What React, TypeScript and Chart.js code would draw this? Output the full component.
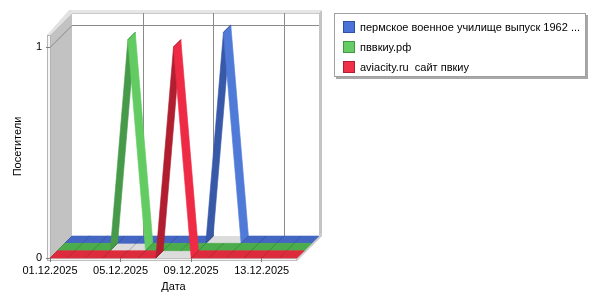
import React, { useEffect, useRef } from "react";
import { Chart, registerables } from "chart.js";

Chart.register(...registerables);

const categories = [
  "01.12.2025", "02.12.2025", "03.12.2025", "04.12.2025", "05.12.2025",
  "06.12.2025", "07.12.2025", "08.12.2025", "09.12.2025", "10.12.2025",
  "11.12.2025", "12.12.2025", "13.12.2025", "14.12.2025", "15.12.2025",
];
const seriesNames = [
  "пермское военное училище выпуск 1962 ...",
  "пввкиу.рф",
  "aviacity.ru  сайт пвкиу",
];
const blueValues = [0, 0, 0, 0, 0, 0, 0, 0, 0, 1, 0, 0, 0, 0, 0];
const greenValues = [0, 0, 0, 0, 1, 0, 0, 0, 0, 0, 0, 0, 0, 0, 0];
const redValues = [0, 0, 0, 0, 0, 0, 0, 1, 0, 0, 0, 0, 0, 0, 0];
const yTickValues = [0, 1];
const xLabelStep = 4;

const palette = [
  { flat: "#4367c2", rise: "#3858a8", fall: "#4f7ad8", edge: "rgba(20,40,100,0.45)", legend: "#4a72d8", border: "#30509c" },
  { flat: "#4aac4a", rise: "#479a4a", fall: "#62cc62", edge: "rgba(20,80,20,0.45)", legend: "#66cc66", border: "#3f9a3f" },
  { flat: "#dd2b3d", rise: "#b01e30", fall: "#ee2a44", edge: "rgba(110,10,20,0.45)", legend: "#ee3048", border: "#b01c30" },
];

const DEPTH = 22;
const T = 3;

const threeD = {
  id: "threeD",
  beforeDraw(chart: any) {
    const ctx = chart.ctx;
    const { left, right, top, bottom } = chart.chartArea;
    const D = DEPTH;
    ctx.save();
    ctx.fillStyle = "#ffffff";
    ctx.fillRect(0, 0, chart.width, chart.height);

    // back wall
    ctx.fillStyle = "#ffffff";
    ctx.fillRect(left + D, top - D, right - left, bottom - top);
    // back wall top face
    ctx.fillStyle = "#e6e6e6";
    ctx.beginPath();
    ctx.moveTo(left + D - T, top - D);
    ctx.lineTo(right + D, top - D);
    ctx.lineTo(right + D + T, top - D - T);
    ctx.lineTo(left + D, top - D - T);
    ctx.closePath();
    ctx.fill();
    ctx.strokeStyle = "#c8c8c8";
    ctx.lineWidth = 1;
    ctx.beginPath();
    ctx.moveTo(left + D, top - D + 0.5);
    ctx.lineTo(right + D, top - D + 0.5);
    ctx.stroke();
    // back wall right face
    ctx.fillStyle = "#c4c4c4";
    ctx.beginPath();
    ctx.moveTo(right + D, top - D);
    ctx.lineTo(right + D + T, top - D - T);
    ctx.lineTo(right + D + T, bottom - D - T);
    ctx.lineTo(right + D, bottom - D);
    ctx.closePath();
    ctx.fill();

    // floor top face
    ctx.fillStyle = "#dcdcdc";
    ctx.beginPath();
    ctx.moveTo(left, bottom);
    ctx.lineTo(right, bottom);
    ctx.lineTo(right + D, bottom - D);
    ctx.lineTo(left + D, bottom - D);
    ctx.closePath();
    ctx.fill();
    // floor front face
    ctx.fillStyle = "#f2f2f2";
    ctx.fillRect(left - T, bottom, right - left + T, T);
    ctx.strokeStyle = "#c0c0c0";
    ctx.strokeRect(left - T + 0.5, bottom + 0.5, right - left + T - 1, T - 1);
    // floor right face
    ctx.fillStyle = "#c8c8c8";
    ctx.beginPath();
    ctx.moveTo(right, bottom);
    ctx.lineTo(right + D + T, bottom - D - T);
    ctx.lineTo(right + D + T, bottom - D);
    ctx.lineTo(right, bottom + T);
    ctx.closePath();
    ctx.fill();

    // left wall inner face
    ctx.fillStyle = "#c2c2c2";
    ctx.beginPath();
    ctx.moveTo(left, top);
    ctx.lineTo(left + D, top - D);
    ctx.lineTo(left + D, bottom - D);
    ctx.lineTo(left, bottom);
    ctx.closePath();
    ctx.fill();
    // left wall top face
    ctx.fillStyle = "#e2e2e2";
    ctx.beginPath();
    ctx.moveTo(left - T, top);
    ctx.lineTo(left, top);
    ctx.lineTo(left + D, top - D);
    ctx.lineTo(left + D, top - D - T);
    ctx.lineTo(left + D - T, top - D - T);
    ctx.closePath();
    ctx.fill();
    // left wall front face
    ctx.fillStyle = "#f6f6f6";
    ctx.fillRect(left - T, top, T, bottom - top + T);
    ctx.strokeStyle = "#b4b4b4";
    ctx.strokeRect(left - T + 0.5, top + 0.5, T, bottom - top + T - 1);

    // gridlines
    const xs = chart.scales.x;
    const ys = chart.scales.y;
    ctx.strokeStyle = "#8a8a8a";
    ctx.lineWidth = 1;
    yTickValues.forEach((v) => {
      if (v === 0) return;
      const y = Math.round(ys.getPixelForValue(v)) + 0.5;
      ctx.beginPath();
      ctx.moveTo(left, y);
      ctx.lineTo(left + D, y - D);
      ctx.lineTo(right + D, y - D);
      ctx.stroke();
    });
    categories.forEach((_, i) => {
      if (i % xLabelStep !== 0 || i === 0) return;
      const x = Math.round(xs.getPixelForValue(i)) + 0.5;
      ctx.strokeStyle = "#8a8a8a";
      ctx.beginPath();
      ctx.moveTo(x + D, top - D);
      ctx.lineTo(x + D, bottom - D);
      ctx.stroke();
      ctx.strokeStyle = "#a8a8a8";
      ctx.beginPath();
      ctx.moveTo(x, bottom);
      ctx.lineTo(x + D, bottom - D);
      ctx.stroke();
    });
    ctx.restore();
  },
  afterDatasetsDraw(chart: any) {
    const ctx = chart.ctx;
    const n = chart.data.datasets.length;
    const d = DEPTH / n;
    ctx.save();
    for (let s = 0; s < n; s++) {
      const meta = chart.getDatasetMeta(s);
      const pts = meta.data;
      const z0 = (n - 1 - s) * d;
      const z1 = z0 + d;
      const col = palette[s];
      for (let k = 0; k < pts.length - 1; k++) {
        const a = pts[k];
        const b = pts[k + 1];
        let fill = col.flat;
        if (b.y < a.y - 0.5) fill = col.rise;
        else if (b.y > a.y + 0.5) fill = col.fall;
        ctx.fillStyle = fill;
        ctx.beginPath();
        ctx.moveTo(a.x + z0, a.y - z0);
        ctx.lineTo(b.x + z0, b.y - z0);
        ctx.lineTo(b.x + z1, b.y - z1);
        ctx.lineTo(a.x + z1, a.y - z1);
        ctx.closePath();
        ctx.fill();
        ctx.strokeStyle = fill;
        ctx.lineWidth = 0.6;
        ctx.stroke();
        ctx.strokeStyle = col.edge;
        ctx.lineWidth = 0.8;
        ctx.beginPath();
        ctx.moveTo(a.x + z0, a.y - z0);
        ctx.lineTo(a.x + z1, a.y - z1);
        ctx.stroke();
      }
    }
    ctx.restore();
  },
  afterDraw(chart: any) {
    const ctx = chart.ctx;
    ctx.save();
    const bx = 334, by = 13, bw = 252, bh = 64;
    ctx.fillStyle = "#a8a8a8";
    ctx.fillRect(bx + 2, by + 2, bw, bh);
    ctx.fillStyle = "#ffffff";
    ctx.fillRect(bx, by, bw, bh);
    ctx.strokeStyle = "#a0a0a0";
    ctx.lineWidth = 1;
    ctx.strokeRect(bx + 0.5, by + 0.5, bw - 1, bh - 1);
    ctx.font = "11px 'Liberation Sans'";
    ctx.textBaseline = "middle";
    ctx.textAlign = "left";
    chart.data.datasets.forEach((ds: any, i: number) => {
      const y = by + 8 + i * 20;
      ctx.fillStyle = palette[i].legend;
      ctx.fillRect(bx + 9, y, 12, 12);
      ctx.strokeStyle = palette[i].border;
      ctx.strokeRect(bx + 9.5, y + 0.5, 11, 11);
      ctx.fillStyle = "#000000";
      ctx.fillText(ds.label, bx + 26, y + 6.5);
    });
    ctx.restore();
  },
};

export default function App() {
  const ref = useRef<HTMLCanvasElement | null>(null);
  useEffect(() => {
    if (!ref.current) return;
    Chart.defaults.font.family = "'Liberation Sans', Arial, sans-serif";
    Chart.defaults.font.size = 11;
    Chart.defaults.color = "#000000";
    const valueSets = [blueValues, greenValues, redValues];
    const chart = new Chart(ref.current, {
      type: "line",
      data: {
        labels: categories,
        datasets: valueSets.map((vals, i) => ({
          label: seriesNames[i],
          data: vals,
          showLine: false,
          pointRadius: 0,
          borderWidth: 0,
          borderColor: palette[i].legend,
          backgroundColor: palette[i].legend,
        })),
      },
      options: {
        animation: false,
        responsive: false,
        layout: { padding: { top: 35, right: 303, left: 0, bottom: 0 } },
        plugins: { legend: { display: false }, tooltip: { enabled: false } },
        scales: {
          x: {
            type: "category",
            offset: false,
            afterFit: (s: any) => { s.height = 42; },
            border: { display: false },
            grid: {
              drawOnChartArea: false,
              drawTicks: true,
              tickLength: 4,
              color: (c: any) => (c.index % xLabelStep === 0 ? "#808080" : "rgba(0,0,0,0)"),
            },
            ticks: {
              autoSkip: false,
              maxRotation: 0,
              padding: 2,
              callback: (_v: any, i: number) => (i % xLabelStep === 0 ? categories[i] : ""),
            },
            title: { display: true, text: "Дата", padding: { top: 0, bottom: 6 } },
          },
          y: {
            type: "linear",
            min: 0,
            max: 1.057,
            afterFit: (s: any) => { s.width = 50; },
            afterBuildTicks: (s: any) => { s.ticks = yTickValues.map((v) => ({ value: v })); },
            border: { display: false },
            grid: { drawOnChartArea: false, drawTicks: true, tickLength: 4, color: "#808080" },
            ticks: { padding: 4, callback: (v: any) => String(v) },
            title: { display: true, text: "Посетители", padding: { top: 11, bottom: 0 } },
          },
        },
      },
      plugins: [threeD],
    });
    return () => chart.destroy();
  }, []);
  return (
    <div style={{ position: "fixed", left: 0, top: 0, width: 600, height: 300, background: "#fff" }}>
      <canvas ref={ref} width={600} height={300} />
    </div>
  );
}
